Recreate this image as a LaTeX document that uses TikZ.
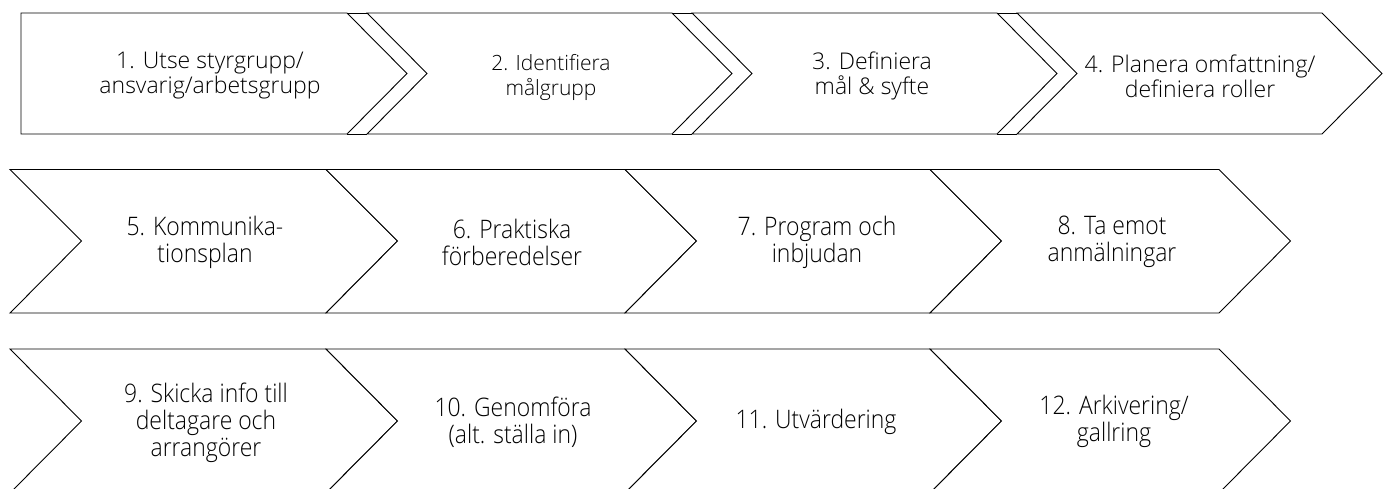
\documentclass[tikz,border=0pt]{standalone}
\usepackage{fontspec}
\setmainfont{Open Sans Light}
\newfontfamily\condfont[FakeStretch=0.9]{Open Sans Light}
\begin{document}
\begin{tikzpicture}[x=1pt,y=-1pt,
  shp/.style={draw=black, line width=0.9pt, line join=miter, fill=white},
  lbl/.style={align=center, font=\fontsize{23}{25}\selectfont, inner sep=0pt, text=black},
  lblsmall/.style={lbl, font=\fontsize{21}{25}\selectfont},
  lblcond/.style={lbl, font=\condfont\fontsize{25.5}{27}\selectfont}]
\useasboundingbox (0,0) rectangle (1395,489);
\clip (0,0) rectangle (1395,489);
% row 1
\draw[shp] (21,13) -- (347,13) -- (407,73.5) -- (347,134) -- (21,134) -- cycle;
\foreach \a in {367,692,1017}{
  \draw[shp] (\a,13) -- (\a+305,13) -- (\a+365,73.5) -- (\a+305,134) -- (\a,134) -- (\a+60,73.5) -- cycle;
}
\foreach \a in {347,672,997}{
  \draw[shp] (\a,13) -- (\a+20,13) (\a,134) -- (\a+20,134);
}
% rows 2 and 3
\foreach \t/\m/\b in {169.5/241/313, 349/421/493}{
  \foreach \a/\c in {10/326,326/625,625/930,930/1219}{
    \draw[shp] (\a,\t) -- (\c,\t) -- (\c+71.5,\m) -- (\c,\b) -- (\a,\b) -- (\a+71.5,\m) -- cycle;
  }
}
% labels
\node[lbl] (t1) at (210,76) {1. Utse styrgrupp/\\ansvarig/arbetsgrupp};
\node[lblsmall] (t2) at (551,77) {2. Identifiera\\målgrupp};
\node[lbl] (t3) at (872,76) {3. Definiera\\mål \& syfte};
\node[lbl] (t4) at (1200,76) {4. Planera omfattning/\\definiera roller};
\node[lblcond] (t5) at (205,242) {5. Kommunika-\\tionsplan};
\node[lblcond] (t6) at (512,242) {6. Praktiska\\förberedelser};
\node[lblcond] (t7) at (817,242) {7. Program och\\inbjudan};
\node[lblcond] (t8) at (1112,242) {8. Ta emot\\anmälningar};
\node[lblcond] (t9) at (206,423) {9. Skicka info till\\deltagare och\\arrangörer};
\node[lblcond] (t10) at (513,422) {10. Genomföra\\(alt. ställa in)};
\node[lblcond] (t11) at (816,422) {11. Utvärdering};
\node[lblcond] (t12) at (1114,421) {12. Arkivering/\\gallring};
\end{tikzpicture}
\end{document}
